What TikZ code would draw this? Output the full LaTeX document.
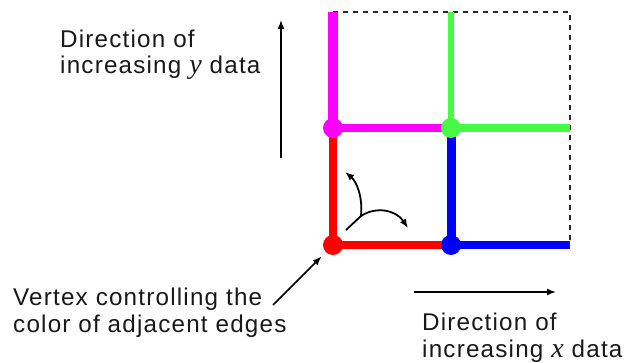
\documentclass[tikz,border=0pt]{standalone}
\usepackage{fontspec}
\setmainfont{Liberation Sans}[LetterSpace=5]
\newfontfamily\ivar{Liberation Serif}
\newcommand{\datavar}[1]{{\ivar\itshape\fontsize{28}{26.5}\selectfont #1}}
\usetikzlibrary{arrows.meta}
\definecolor{mag}{RGB}{255,0,255}
\definecolor{grn}{RGB}{70,250,70}
\definecolor{rd}{RGB}{255,0,0}
\definecolor{bl}{RGB}{0,0,255}
\definecolor{dash}{RGB}{40,40,40}
\tikzset{
  vertex/.style={circle,inner sep=0pt,minimum size=20pt},
  edge/.style={line width=8pt,line cap=butt},
  label/.style={inner sep=0pt,align=left,anchor=base west,
    font=\fontsize{24.2}{26.5}\selectfont,text=black!90},
  pointer/.style={line width=1.6pt,-{Latex[length=9pt,width=7pt]}},
  frame/.style={line width=1.4pt,dash pattern=on 5pt off 5pt,draw=dash},
}
\begin{document}
\begin{tikzpicture}[x=1pt,y=-1pt]
\useasboundingbox (0,0) rectangle (629,363);
% grid points
\coordinate (Ct) at (333,12);
\coordinate (Dt) at (451,12);
\coordinate (TR) at (570,12);
\coordinate (Dr) at (570,128);
\coordinate (Br) at (570,245);
% dashed outline
\draw[frame] (Ct) -- (TR) -- (Br);
% vertex positions
\coordinate (A) at (333,245);
\coordinate (B) at (451,245);
\coordinate (C) at (333,128);
\coordinate (D) at (451,128);
% edges
\draw[edge,draw=mag,line width=9.5pt] (C) -- (Ct);
\draw[edge,draw=mag] (C) -- (D);
\draw[edge,draw=grn,line width=5.5pt] (D) -- (Dt);
\draw[edge,draw=grn] (D) -- (Dr);
\draw[edge,draw=rd] (A) -- (C);
\draw[edge,draw=rd] (A) -- (B);
\draw[edge,draw=bl,line width=9pt] (B) -- (D);
\draw[edge,draw=bl] (B) -- (Br);
% vertices
\node[vertex,fill=rd] (vA) at (A) {};
\node[vertex,fill=bl] (vB) at (B) {};
\node[vertex,fill=mag] (vC) at (C) {};
\node[vertex,fill=grn] (vD) at (D) {};
% rotation symbol
\coordinate (J) at (361,216);
\coordinate (Js) at (346,230);
\coordinate (Ju) at (345,172);
\coordinate (Jr) at (408,228);
\draw[line width=1.8pt] (Js) -- (J);
\draw[pointer,line width=1.8pt] (J) .. controls (363,196) and (356,181) .. (Ju);
\draw[pointer,line width=1.8pt] (J) .. controls (376,206) and (396,210) .. (Jr);
% labels
\node[label] (ylab) at (60,74) {Direction of\\increasing \datavar{y} data};
\node[label] (vlab) at (13,332) {Vertex controlling the\\color of adjacent edges};
\node[label] (xlab) at (422,357) {Direction of\\increasing \datavar{x} data};
% direction arrows
\coordinate (ya0) at (281,158);
\coordinate (ya1) at (281,20);
\draw[pointer] (ya0) -- (ya1);
\coordinate (xa0) at (414,292);
\coordinate (xa1) at (556,292);
\draw[pointer] (xa0) -- (xa1);
\coordinate (va0) at (273,305);
\draw[pointer,shorten >=6pt] (va0) -- (vA);
\end{tikzpicture}
\end{document}
